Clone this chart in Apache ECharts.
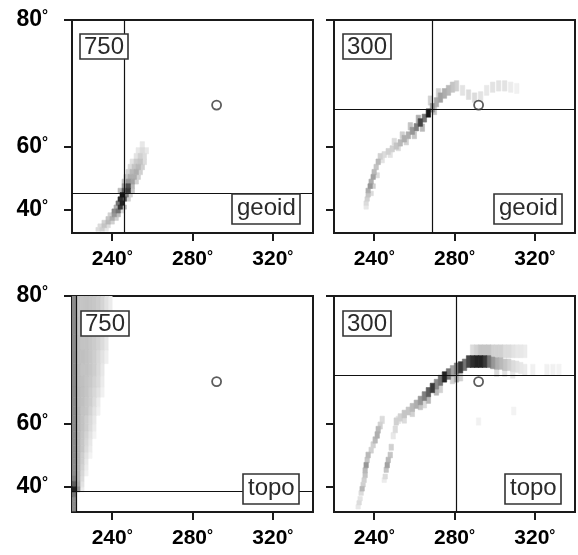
<!DOCTYPE html>
<html>
<head>
<meta charset="utf-8">
<script src="https://cdn.jsdelivr.net/npm/echarts@6/dist/echarts.min.js"></script>
<style>
  html, body { margin: 0; background: #fff; }
  #main { width: 578px; height: 555px; }
</style>
</head>
<body>
<div id="main"></div>
<script>
// axis ticks (degrees)
const xTicks = [240, 280, 320];
const yTicks = [40, 60, 80];

// cells: [lon, lat, darkness 0..1]
const tlCells = [
  [233, 32, 0.15], [235, 32, 0.2], [237, 32, 0.1],
  [234, 33.5, 0.15], [236, 33.5, 0.25], [238, 33.5, 0.15],
  [236, 35, 0.2], [238, 35, 0.3], [240, 35, 0.2],
  [238, 36.5, 0.25], [240, 36.5, 0.35], [242, 36.5, 0.2],
  [239, 38, 0.2], [241, 38, 0.45], [243, 38, 0.3],
  [241, 39.5, 0.5], [243, 39.5, 0.6], [245, 39.5, 0.15],
  [242, 41, 0.35], [244, 41, 0.85], [246, 41, 0.3],
  [243, 42.5, 0.6], [245, 42.5, 0.95],
  [244, 44, 0.9], [246, 44, 0.75], [248, 44, 0.2],
  [245, 45.5, 1.0], [247, 45.5, 0.55], [249, 45.5, 0.2],
  [244, 47, 0.3], [246, 47, 0.7], [248, 47, 0.85], [250, 47, 0.25],
  [246, 48.5, 0.45], [248, 48.5, 0.75], [250, 48.5, 0.3],
  [246, 50, 0.25], [248, 50, 0.45], [250, 50, 0.4], [252, 50, 0.2],
  [247, 51.5, 0.25], [249, 51.5, 0.35], [251, 51.5, 0.35], [253, 51.5, 0.2],
  [248, 53, 0.2], [250, 53, 0.3], [252, 53, 0.35], [254, 53, 0.2],
  [249, 54.5, 0.15], [251, 54.5, 0.25], [253, 54.5, 0.3], [255, 54.5, 0.2],
  [250, 56, 0.12], [252, 56, 0.22], [254, 56, 0.25], [256, 56, 0.15],
  [252, 57.5, 0.12], [254, 57.5, 0.2], [256, 57.5, 0.15],
  [253, 59, 0.1], [255, 59, 0.15], [257, 59, 0.1],
  [255, 60.5, 0.1]
];

const trCells = [
  [236, 41, 0.1], [236, 42.5, 0.15], [236.5, 44, 0.2], [237, 45.5, 0.25],
  [237, 47, 0.35], [238, 48.5, 0.45], [238.5, 50, 0.35], [239.5, 51.5, 0.4],
  [240, 53, 0.3], [241, 54.5, 0.25], [242, 56, 0.3], [243, 57.5, 0.2],
  [238.5, 46, 0.15], [239.5, 48.5, 0.2], [241.5, 52, 0.15],
  [245, 58, 0.15], [247, 58.8, 0.2], [249, 59.5, 0.2], [251, 60.2, 0.25],
  [253, 61, 0.3], [255, 62, 0.35], [257, 62.8, 0.35], [259, 63.8, 0.45],
  [261, 64.6, 0.55], [263, 65.6, 0.8], [265, 66.5, 0.6], [267, 67.5, 1.0],
  [244, 56.5, 0.12], [248, 58, 0.12], [250, 61.3, 0.15], [254, 62.8, 0.2],
  [252, 59.8, 0.15], [256, 61.3, 0.2], [258, 64.8, 0.25], [262, 66.3, 0.35],
  [260, 62.8, 0.25], [264, 64.5, 0.3],
  [269, 68.5, 0.45], [271, 69.5, 0.35], [273, 70.3, 0.4], [275, 71, 0.35],
  [277, 71.5, 0.3], [279, 72, 0.25], [281, 72.2, 0.2], [268, 69.8, 0.2],
  [272, 71, 0.2], [270, 68, 0.25], [284, 71.5, 0.12], [287, 70.8, 0.15],
  [290, 70.3, 0.15], [293, 70.5, 0.12], [296, 71.5, 0.1], [299, 72, 0.12],
  [302, 72.2, 0.12], [305, 72.2, 0.12], [308, 72, 0.08], [311, 71.8, 0.06]
];

const brCells = [
  [251, 60.5, 0.2], [253, 61.5, 0.2], [255, 62.3, 0.25], [257, 63, 0.25],
  [259, 63.8, 0.3], [261, 64.5, 0.35], [263, 65.3, 0.45], [265, 66.2, 0.55],
  [267, 67, 0.7], [269, 67.8, 0.85], [271, 68.5, 0.5], [273, 69.2, 0.6],
  [275, 69.8, 0.95], [277, 70.3, 0.6], [279, 70.8, 0.4], [281, 71.2, 0.55],
  [283, 71.4, 0.85], [285, 71.8, 0.6], [287, 72.3, 0.8], [289, 72.3, 0.9],
  [291, 72.3, 0.95], [293, 72.3, 0.95], [295, 72.3, 0.85], [297, 72.3, 0.6],
  [299, 72.1, 0.45], [301, 72, 0.35], [303, 72, 0.3], [305, 71.8, 0.25],
  [307, 71.8, 0.2], [309, 71.6, 0.15], [311, 71.5, 0.12], [313, 71.3, 0.1],
  [326, 71, 0.06], [329, 71, 0.06], [332, 71, 0.05],
  [289, 73.8, 0.15], [291, 73.8, 0.2], [293, 73.8, 0.25], [295, 73.8, 0.25],
  [297, 73.8, 0.25], [299, 73.8, 0.2], [301, 73.8, 0.2], [303, 73.8, 0.2],
  [305, 73.8, 0.15], [307, 73.8, 0.15], [309, 73.8, 0.12], [311, 73.8, 0.1],
  [313, 73.8, 0.1], [315, 73.8, 0.08],
  [301, 70.8, 0.15], [305, 70.8, 0.12], [309, 70.5, 0.1], [315, 71, 0.08], [319, 71, 0.06],
  [281, 69.8, 0.35], [283, 70, 0.2], [279, 69.5, 0.2], [271, 67.3, 0.3],
  [267, 65.6, 0.3], [263, 64.2, 0.25], [259, 62.6, 0.2], [255, 61, 0.15],
  [273, 67.8, 0.2], [265, 64.6, 0.15],
  // left strand
  [244, 60.9, 0.15], [243, 59.5, 0.2], [242, 58.4, 0.3], [241.5, 57, 0.35],
  [240.5, 55.6, 0.3], [239.5, 54.2, 0.2], [238.5, 52.6, 0.2], [237, 51.1, 0.3],
  [236.5, 49.5, 0.25], [236, 47.8, 0.45], [235.5, 46, 0.3], [235.5, 44.3, 0.25],
  [235, 42.5, 0.2], [234.5, 40.8, 0.2], [234, 39.2, 0.3], [233.5, 37.5, 0.15],
  [233, 35.2, 0.12], [232.5, 33.5, 0.15], [232, 31.8, 0.1],
  // right strand
  [252, 60.9, 0.12], [250.5, 58.5, 0.15], [249.5, 56.8, 0.1], [248.5, 53.5, 0.2],
  [248, 51.1, 0.25], [247, 49.5, 0.3], [246.5, 47.8, 0.4], [246, 46.2, 0.25],
  [245.5, 43.8, 0.15], [245, 42.5, 0.08],
  [292, 60.5, 0.06], [309.5, 63, 0.05]
];

// bottom-left wedge: rows of cells starting at lon 223, step 2
const blLats = [79, 77, 75, 73, 71, 69, 67, 65, 63, 61, 59, 57, 55, 53, 51, 49, 47, 45, 43, 41, 39];
const blRows = [
  [0.25, 0.25, 0.26, 0.25, 0.24, 0.22, 0.18, 0.13, 0.08],
  [0.26, 0.27, 0.26, 0.25, 0.24, 0.21, 0.17, 0.12, 0.06],
  [0.27, 0.26, 0.26, 0.24, 0.22, 0.19, 0.15, 0.1],
  [0.27, 0.27, 0.26, 0.24, 0.21, 0.17, 0.12, 0.07],
  [0.28, 0.26, 0.26, 0.24, 0.21, 0.16, 0.1],
  [0.28, 0.27, 0.25, 0.23, 0.19, 0.15, 0.08],
  [0.29, 0.27, 0.25, 0.21, 0.17, 0.12, 0.06],
  [0.29, 0.27, 0.24, 0.21, 0.15, 0.08],
  [0.3, 0.26, 0.24, 0.19, 0.12, 0.06],
  [0.3, 0.26, 0.21, 0.16, 0.1],
  [0.3, 0.26, 0.21, 0.15, 0.08],
  [0.3, 0.25, 0.19, 0.12, 0.05],
  [0.3, 0.24, 0.17, 0.1],
  [0.3, 0.24, 0.15, 0.08],
  [0.3, 0.21, 0.12, 0.05],
  [0.3, 0.21, 0.1],
  [0.3, 0.19, 0.08],
  [0.3, 0.17, 0.06],
  [0.3, 0.15],
  [0.35, 0.12],
  [0.45, 0.08]
];
const blEdge = [
  [221, 79, 0.5], [221, 77, 0.5], [221, 75, 0.5], [221, 73, 0.5], [221, 71, 0.5],
  [221, 69, 0.5], [221, 67, 0.5], [221, 65, 0.5], [221, 63, 0.5], [221, 61, 0.5],
  [221, 59, 0.5], [221, 57, 0.5], [221, 55, 0.5], [221, 53, 0.5], [221, 51, 0.5],
  [221, 49, 0.5], [221, 47, 0.5], [221, 45, 0.5], [221, 43, 0.55], [221, 41, 0.7],
  [221, 39, 0.95], [221, 37, 0.6], [221, 35, 0.5], [221, 33, 0.5], [221, 31, 0.5]
];

// crosshair positions and the reference circle
const crossLon = [246, 269, 222, 281];
const crossLat = [46.3, 68.3, 38, 70.1];
const station = [292, 69];

const tags = ['750', '300', '750', '300'];
const names = ['geoid', 'geoid', 'topo', 'topo'];

const merc = lat => Math.log(Math.tan(Math.PI / 4 + lat * Math.PI / 360));
const unmerc = m => (2 * Math.atan(Math.exp(m)) - Math.PI / 2) * 180 / Math.PI;

const blCells = blEdge.slice();
blRows.forEach((row, i) => {
  row.forEach((v, j) => blCells.push([223 + 2 * j, blLats[i], v]));
});

const panels = [
  { cells: tlCells, dlon: 2.2, dlat: 1.6, left: 72, top: 20, h: 213, minLat: 30.4, labels: true,
    tagPos: [80, 35], namePos: [232, 194] },
  { cells: trCells, dlon: 2.2, dlat: 1.6, left: 334, top: 20, h: 213, minLat: 30.4, labels: false,
    tagPos: [343, 35], namePos: [494, 194] },
  { cells: blCells, dlon: 2, dlat: 2, left: 72, top: 296, h: 216, minLat: 29.6, labels: true,
    tagPos: [81, 312], namePos: [243, 474] },
  { cells: brCells, dlon: 2.2, dlat: 1.8, left: 334, top: 296, h: 216, minLat: 29.6, labels: false,
    tagPos: [343, 312], namePos: [505, 474] }
];

const font = '"Liberation Sans", Arial, Helvetica, sans-serif';
const ink = '#1a1a1a';
const gray = v => { const g = Math.round(255 - v * 232); return 'rgb(' + g + ',' + g + ',' + g + ')'; };

const grid = [], xAxis = [], yAxis = [], series = [], title = [];

const degRich = { d: { fontSize: 15, fontWeight: 'bold', color: '#000', verticalAlign: 'top', fontFamily: font } };

panels.forEach((p, i) => {
  grid.push({
    left: p.left, top: p.top, width: 241, height: p.h,
    show: true, borderColor: ink, borderWidth: 2, backgroundColor: 'transparent'
  });
  xAxis.push({
    gridIndex: i, type: 'value', min: 220, max: 340,
    axisLine: { show: false }, splitLine: { show: false },
    axisTick: { customValues: xTicks, length: 8, lineStyle: { color: ink, width: 2 } },
    axisLabel: {
      customValues: xTicks, margin: 16, color: '#000', fontFamily: font,
      fontSize: 21, fontWeight: 'bold',
      formatter: v => v + '{d|°}',
      rich: degRich
    }
  });
  yAxis.push({
    gridIndex: i, type: 'value', min: merc(p.minLat), max: merc(80),
    axisLine: { show: false }, splitLine: { show: false },
    axisTick: { customValues: yTicks.map(merc), length: 8, lineStyle: { color: ink, width: 2 } },
    axisLabel: {
      show: p.labels, customValues: yTicks.map(merc), margin: 24, color: '#000', fontFamily: font,
      fontSize: 23, fontWeight: 'bold',
      formatter: v => Math.round(unmerc(v)) + '{d|°}',
      rich: degRich
    }
  });

  series.push({
    type: 'custom', xAxisIndex: i, yAxisIndex: i, clip: true, silent: true,
    data: p.cells,
    renderItem: (params, api) => {
      const lon = api.value(0), lat = api.value(1), v = api.value(2);
      const a = api.coord([lon - p.dlon / 2, merc(lat + p.dlat / 2)]);
      const b = api.coord([lon + p.dlon / 2, merc(lat - p.dlat / 2)]);
      const c = gray(v);
      return {
        type: 'rect',
        z2: Math.round(v * 100),
        shape: { x: a[0], y: a[1], width: b[0] - a[0], height: b[1] - a[1] },
        style: { fill: c, stroke: c, lineWidth: 0.6 }
      };
    }
  });

  series.push({
    type: 'line', xAxisIndex: i, yAxisIndex: i, data: [], silent: true,
    markLine: {
      silent: true, symbol: 'none', animation: false,
      label: { show: false },
      lineStyle: { color: '#111', width: 1.2, type: 'solid' },
      data: [{ xAxis: crossLon[i] }, { yAxis: merc(crossLat[i]) }]
    }
  });

  series.push({
    type: 'scatter', xAxisIndex: i, yAxisIndex: i, silent: true, z: 5,
    data: [[station[0], merc(station[1])]],
    symbol: 'circle', symbolSize: 9,
    itemStyle: { color: '#fff', borderColor: '#333', borderWidth: 1.8 }
  });

  const box = { color: '#2a2a2a', fontFamily: font, fontSize: 24, fontWeight: 'normal' };
  title.push({
    text: tags[i], left: p.tagPos[0], top: p.tagPos[1],
    borderColor: '#333', borderWidth: 1.6, padding: [1, 4, 0, 4], backgroundColor: '#fff',
    textStyle: Object.assign({ lineHeight: 22 }, box)
  });
  title.push({
    text: names[i], left: p.namePos[0], top: p.namePos[1],
    borderColor: '#333', borderWidth: 1.6, padding: [1, 5, 2, 5], backgroundColor: '#fff',
    textStyle: Object.assign({ lineHeight: 27 }, box)
  });
});

const myChart = echarts.init(document.getElementById('main'));
myChart.setOption({
  animation: false,
  backgroundColor: '#fff',
  title, grid, xAxis, yAxis, series
});
</script>
</body>
</html>
